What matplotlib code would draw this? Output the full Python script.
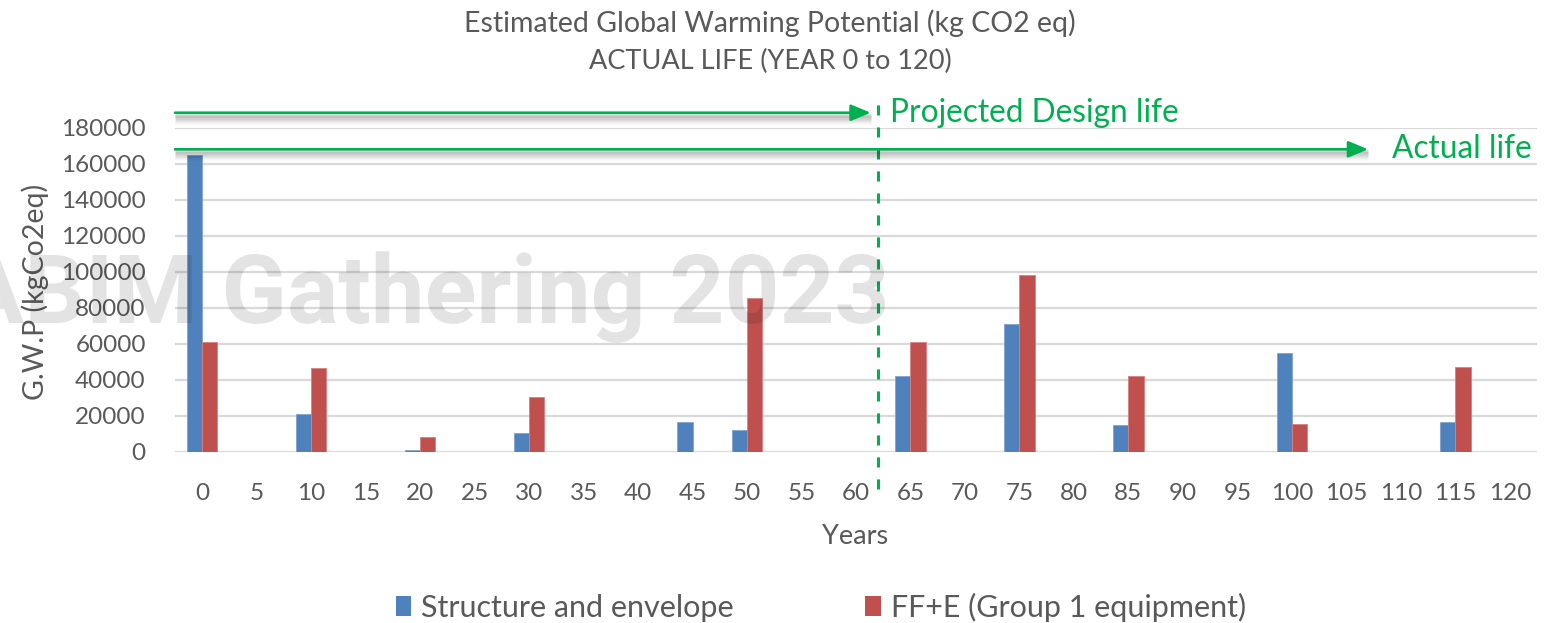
import matplotlib
matplotlib.use("Agg")
import matplotlib.pyplot as plt
import matplotlib.transforms as mtransforms
from matplotlib.font_manager import FontProperties
from matplotlib.textpath import TextPath
from matplotlib.patches import PathPatch, Patch
import numpy as np

# ---- data -------------------------------------------------------------
years = list(range(0, 121, 5))
structure_envelope = [165000, 0, 21000, 0, 1000, 0, 10500, 0, 0, 16500,
                      12300, 0, 0, 42400, 0, 71000, 0, 15100, 0, 0,
                      55000, 0, 0, 16600, 0]
ffe_group1 = [61000, 0, 46500, 0, 8300, 0, 30800, 0, 0, 0,
              85500, 0, 0, 61200, 0, 98500, 0, 42300, 0, 0,
              15800, 0, 0, 47000, 0]
series_names = ["Structure and envelope", "FF+E (Group 1 equipment)"]
y_ticks = list(range(0, 180001, 20000))

design_life_year = 62          # dashed marker between 60 and 65
actual_arrow_end_year = 107
design_arrow_level = 188300
actual_arrow_level = 168000

# ---- style ------------------------------------------------------------
BLUE = "#4F81BD"
RED = "#C0504D"
GREEN = "#00B050"
GREY_TEXT = "#595959"
GRID = "#D9D9D9"
FONT = "Lato"

plt.rcParams["font.family"] = [FONT, "DejaVu Sans"]

W, H = 1560, 623
fig = plt.figure(figsize=(W / 100, H / 100), dpi=100)
ax = fig.add_axes([175 / W, 1 - 452 / H, 1362 / W, 324.3 / H])

x = np.arange(len(years))
bw = 0.28
ax.bar(x - bw / 2, structure_envelope, width=bw, color=BLUE,
       edgecolor="#7FA3CF", linewidth=0.6, zorder=3)
ax.bar(x + bw / 2, ffe_group1, width=bw, color=RED,
       edgecolor="#D6817F", linewidth=0.6, zorder=3)

ax.set_xlim(-0.5, len(years) - 0.5)
ax.set_ylim(0, 180000)
ax.set_yticks(y_ticks)
ax.set_yticklabels([str(v) for v in y_ticks])
ax.set_xticks(x)
ax.set_xticklabels([str(y) for y in years])
ax.grid(axis="y", color=GRID, linewidth=1.6, zorder=0)
ax.set_axisbelow(True)
for s in ax.spines.values():
    s.set_visible(False)
ax.tick_params(axis="both", length=0, labelsize=17.5, colors=GREY_TEXT)
ax.tick_params(axis="y", pad=21)
ax.tick_params(axis="x", pad=22)

ax.set_xlabel("Years", fontsize=19.5, color=GREY_TEXT, va="center")
ax.xaxis.set_label_coords(0.499, -0.262)
ax.set_ylabel("G.W.P (kgCo2eq)", fontsize=20.5, color=GREY_TEXT, va="center")
ax.yaxis.set_label_coords(-0.103, 0.493)

# ---- titles -----------------------------------------------------------
fig.text(770 / W, 1 - 23 / H, "Estimated Global Warming Potential (kg CO2 eq)",
         ha="center", va="center", fontsize=20.5, color=GREY_TEXT)
fig.text(770 / W, 1 - 61 / H, "ACTUAL LIFE (YEAR 0 to 120)",
         ha="center", va="center", fontsize=19.5, color=GREY_TEXT)


def yx(year):
    return year / 5


# ---- design-life marker and life arrows -------------------------------
ax.axvline(yx(design_life_year), ymin=-0.115, ymax=1.085, color=GREEN,
           linewidth=2.2, linestyle=(0, (3.3, 3.9)), clip_on=False, zorder=4)

x_start = ax.get_xlim()[0]
for level, x_end in [(design_arrow_level, yx(design_life_year) - 0.13),
                     (actual_arrow_level, yx(actual_arrow_end_year))]:
    # soft drop shadow under each arrow
    for k, a in zip(range(2, 11), np.linspace(0.09, 0.01, 9)):
        tr = mtransforms.offset_copy(ax.transData, fig, x=0, y=-k, units="dots")
        ax.plot([x_start, x_end], [level, level], color="black", alpha=a,
                linewidth=2.5, transform=tr, clip_on=False, zorder=4,
                solid_capstyle="butt")
    ax.annotate("", xy=(x_end, level), xytext=(x_start, level),
                arrowprops=dict(arrowstyle="-|>,head_length=0.6,head_width=0.25",
                                color=GREEN, lw=1.9, mutation_scale=20,
                                shrinkA=0, shrinkB=0),
                annotation_clip=False, zorder=5)

ax.text(yx(design_life_year) + 0.22, design_arrow_level, "Projected Design life",
        fontsize=22.8, color=GREEN, ha="left", va="center", clip_on=False)
ax.text(0.996, actual_arrow_level, "Actual life", fontsize=22.8, color=GREEN,
        ha="right", va="center", clip_on=False,
        transform=mtransforms.blended_transform_factory(ax.transAxes, ax.transData))

# ---- watermark ---------------------------------------------------------
wm_prop = FontProperties(family="Roboto", weight="bold")
wm_path = TextPath((0, 0), "ABIM Gathering 2023", size=100, prop=wm_prop)
cap_h = TextPath((0, 0), "H", size=100, prop=wm_prop).get_extents().height
ext = wm_path.get_extents()
left_px, right_px, base_px, cap_px = -40, 885, H - 323, 68
sx = (right_px - left_px) / ext.width
sy = cap_px / cap_h
wm_tr = (mtransforms.Affine2D().translate(-ext.x0, 0).scale(sx, sy)
         .translate(left_px, base_px).scale(1 / W, 1 / H) + fig.transFigure)
fig.patches.append(PathPatch(wm_path, transform=wm_tr, facecolor="black",
                             edgecolor="none", alpha=0.11, zorder=10))

# ---- legend ------------------------------------------------------------
handles = [Patch(facecolor=BLUE, edgecolor="none"),
           Patch(facecolor=RED, edgecolor="none")]
fig.legend(handles, series_names, loc="center", ncol=2,
           bbox_to_anchor=(821 / W, 1 - 607 / H), frameon=False,
           fontsize=22, labelcolor=GREY_TEXT, handlelength=0.5,
           handleheight=0.65, handletextpad=0.33, columnspacing=4.3)

fig.savefig("out.png", dpi=100)
